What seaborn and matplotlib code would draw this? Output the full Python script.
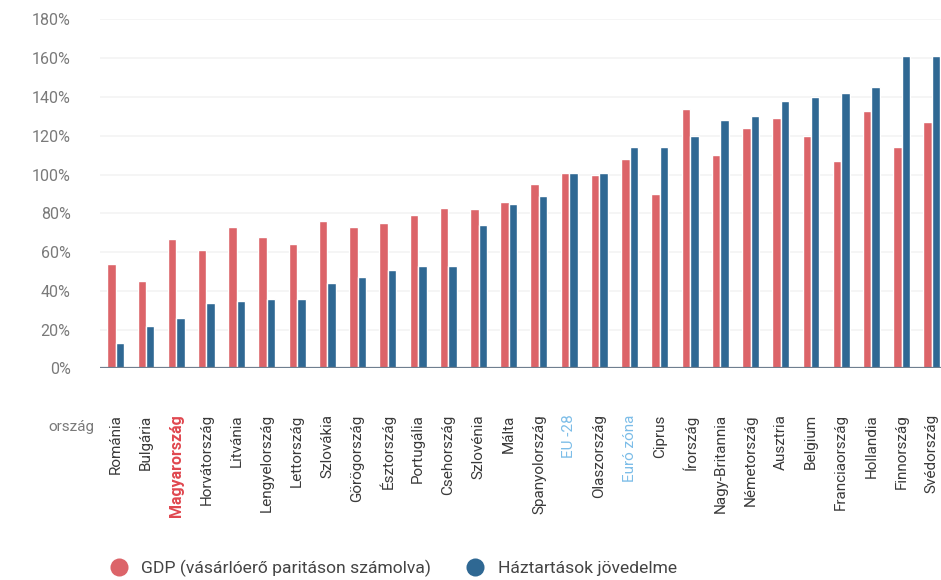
import matplotlib
matplotlib.use("Agg")
import matplotlib.pyplot as plt
from matplotlib.lines import Line2D
from matplotlib.ticker import FuncFormatter
import seaborn as sns
import pandas as pd

# Countries ordered by household income
countries = ["Románia", "Bulgária", "Magyarország", "Horvátország", "Litvánia",
             "Lengyelország", "Lettország", "Szlovákia", "Görögország", "Észtország",
             "Portugália", "Csehország", "Szlovénia", "Málta", "Spanyolország",
             "EU -28", "Olaszország", "Euró zóna", "Ciprus", "Írország",
             "Nagy-Britannia", "Németország", "Ausztria", "Belgium", "Franciaország",
             "Hollandia", "Finnország", "Svédország"]

# GDP per capita at purchasing power parity, % of EU-28
gdp = [54, 45, 67, 61, 73, 68, 64, 76, 73, 75,
       79, 83, 82, 86, 95, 101, 100, 108, 90, 134,
       110, 124, 129, 120, 107, 133, 114, 127]

# Household income, % of EU-28
income = [13, 22, 26, 34, 35, 36, 36, 44, 47, 51,
          53, 53, 74, 85, 89, 101, 101, 114, 114, 120,
          128, 130, 138, 140, 142, 145, 161, 161]

series_gdp = "GDP (vásárlóerő paritáson számolva)"
series_inc = "Háztartások jövedelme"

highlight = "Magyarország"
aggregates = ["EU -28", "Euró zóna"]

yticks = [0, 20, 40, 60, 80, 100, 120, 140, 160, 180]

red = "#dc6469"
blue = "#2f6893"

df = pd.DataFrame({
    "ország": countries * 2,
    "érték": gdp + income,
    "sorozat": [series_gdp] * len(countries) + [series_inc] * len(countries),
})

sns.set_theme(style="white")
plt.rcParams["font.family"] = ["Roboto", "DejaVu Sans"]

fig = plt.figure(figsize=(9.41, 5.8), dpi=100)
ax = fig.add_axes([0.106, 0.3647, 0.894, 0.6017])

sns.barplot(data=df, x="ország", y="érték", hue="sorozat",
            palette=[red, blue], width=0.56, gap=0, saturation=1,
            legend=False, ax=ax)

ax.set_ylim(0, 180)
ax.set_xlim(-0.53, 27.3)
ax.set_yticks(yticks)
ax.yaxis.set_major_formatter(FuncFormatter(lambda v, _: f"{int(v)}%"))
for v in yticks[1:]:
    ax.axhline(v, color="#f3f3f3", lw=1.2, zorder=0)
ax.axhline(0, color="#6f7f8f", lw=1.6, zorder=3)

for s in ax.spines.values():
    s.set_visible(False)

ax.set_xlabel("")
ax.set_ylabel("")
ax.tick_params(axis="y", length=0, pad=21, labelsize=11.5, labelcolor="#7a7a7a")
ax.tick_params(axis="x", length=0, pad=33)
ax.set_xticks(range(len(countries)))
ax.set_xticklabels(countries, rotation=90, va="top", ha="center",
                   fontsize=11, color="#3a3a3a",
                   family=["Liberation Sans Narrow", "Roboto", "DejaVu Sans"])
for lbl in ax.get_xticklabels():
    t = lbl.get_text()
    if t == highlight:
        lbl.set_color("#e0474f")
        lbl.set_fontweight("bold")
        lbl.set_fontsize(11.5)
    elif t in aggregates:
        lbl.set_color("#7cbde8")

fig.text(0.051, 0.264, "ország", fontsize=11, color="#7a7a7a",
         ha="left", va="center")

handles = [
    Line2D([], [], marker="o", ls="", markersize=13, color=red, markeredgewidth=0),
    Line2D([], [], marker="o", ls="", markersize=13, color=blue, markeredgewidth=0),
]
fig.legend(handles, [series_gdp, series_inc], loc="center left",
           bbox_to_anchor=(0.1, 0.02), ncol=2, frameon=False,
           fontsize=12.6, labelcolor="#444444", handletextpad=0.8,
           columnspacing=2.0, handlelength=1.0)

fig.savefig("out.png", dpi=100, facecolor="white")
